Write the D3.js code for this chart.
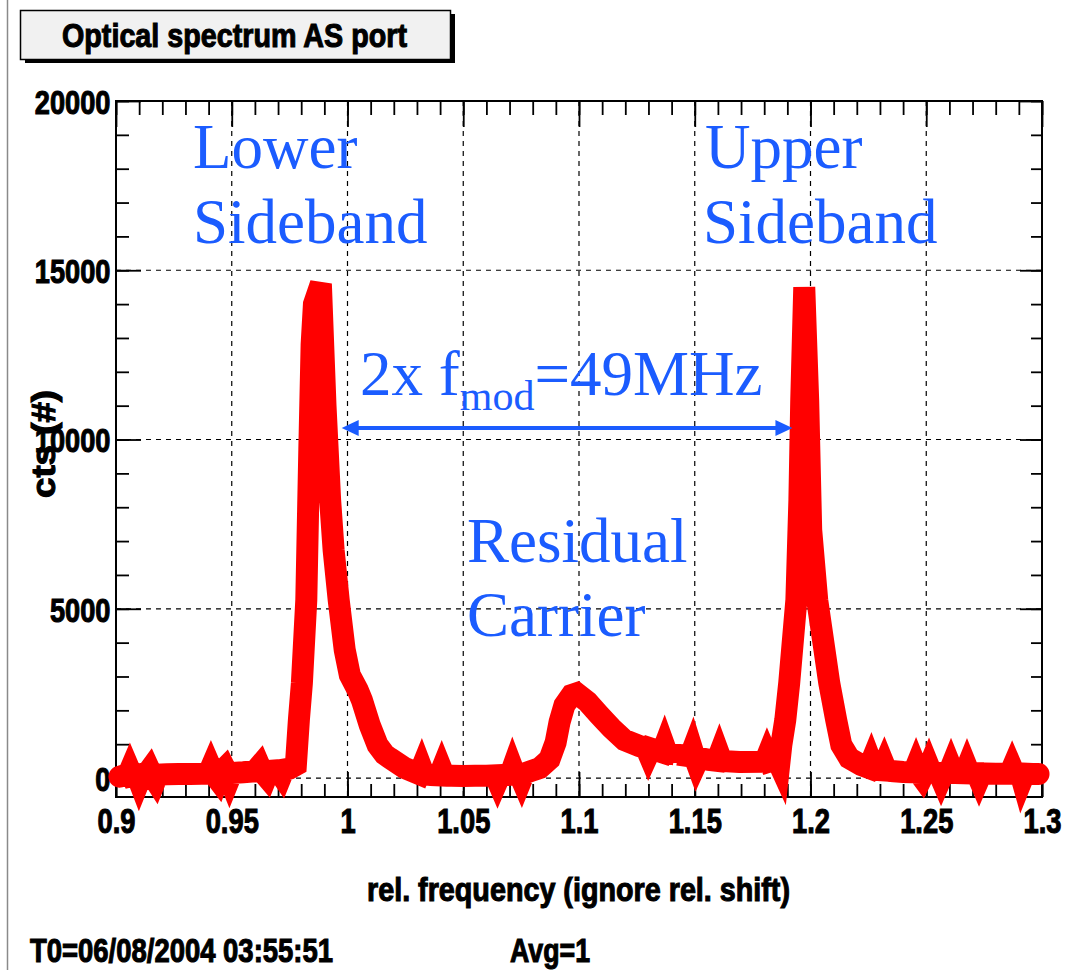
<!DOCTYPE html>
<html>
<head>
<meta charset="utf-8">
<script src="https://cdn.jsdelivr.net/npm/d3@7"></script>
<style>
  body { margin: 0; background: #fff; }
  svg { display: block; }
</style>
</head>
<body>
<div id="chart"></div>
<script>
// relative frequency of each sample
var freq = [
  0.9015, 0.9030, 0.9050, 0.9060, 0.9070, 0.9090, 0.9100, 0.9110, 0.9130, 0.9145,
  0.9155, 0.9170, 0.9180, 0.9220, 0.9270, 0.9320, 0.9370, 0.9400, 0.9410, 0.9420,
  0.9440, 0.9450, 0.9470, 0.9480, 0.9490, 0.9500, 0.9550, 0.9600, 0.9620, 0.9630,
  0.9650, 0.9660, 0.9700, 0.9715, 0.9725, 0.9750, 0.9777, 0.9790, 0.9803, 0.9822,
  0.9835, 0.9845, 0.9855, 0.9885, 0.9905, 0.9925, 0.9940, 0.9962, 0.9988, 1.0010,
  1.0044, 1.0062, 1.0096, 1.0130, 1.0160, 1.0182, 1.0247, 1.0300, 1.0310, 1.0320,
  1.0330, 1.0360, 1.0397, 1.0407, 1.0417, 1.0450, 1.0500, 1.0550, 1.0600, 1.0638,
  1.0648, 1.0658, 1.0703, 1.0713, 1.0723, 1.0742, 1.0752, 1.0762, 1.0790, 1.0830,
  1.0873, 1.0899, 1.0916, 1.0937, 1.0968, 1.0990, 1.1037, 1.1088, 1.1140, 1.1196,
  1.1261, 1.1290, 1.1300, 1.1310, 1.1359, 1.1369, 1.1379, 1.1415, 1.1421, 1.1427,
  1.1480, 1.1490, 1.1500, 1.1508, 1.1518, 1.1560, 1.1596, 1.1606, 1.1616, 1.1693,
  1.1803, 1.1813, 1.1823, 1.1855, 1.1865, 1.1874, 1.1891, 1.1908, 1.1939, 1.1952,
  1.1960, 1.1973, 1.1990, 1.2003, 1.2029, 1.2081, 1.2111, 1.2133, 1.2167, 1.2219,
  1.2252, 1.2262, 1.2272, 1.2297, 1.2308, 1.2318, 1.2328, 1.2360, 1.2400, 1.2446,
  1.2456, 1.2466, 1.2482, 1.2492, 1.2502, 1.2512, 1.2522, 1.2554, 1.2564, 1.2574,
  1.2597, 1.2607, 1.2617, 1.2666, 1.2676, 1.2686, 1.2718, 1.2728, 1.2738, 1.2800,
  1.2861, 1.2871, 1.2881, 1.2895, 1.2901, 1.2907, 1.2914, 1.2924, 1.2960, 1.2985
];

// counts at each sample
var counts = [
  40, 70, 60, 220, 60, 90, -90, 80, 100, 240,
  90, -70, 100, 110, 120, 120, 130, 140, 300, 140,
  -40, 150, 290, 150, -20, 150, 170, 200, 360, 200,
  40, 210, 230, 80, 250, 280, 384, 1713, 2806, 5258,
  9690, 12800, 14000, 14600, 11000, 8213, 6736, 5258, 3781, 3043,
  2600, 2304, 1566, 975, 700, 591, 300, 150, 120, 290,
  110, 90, 80, 250, 80, 70, 60, 70, 70, 80,
  -80, 80, 100, 290, 110, 120, -40, 130, 200, 295,
  560, 1050, 1650, 2150, 2450, 2500, 2250, 1861, 1477, 1123,
  945, 880, 720, 870, 760, 940, 750, 700, 520, 690,
  640, 820, 600, 450, 600, 540, 510, 690, 505, 473,
  480, 650, 490, 560, 410, 975, 1713, 2806, 5258, 8213,
  11167, 14500, 11167, 7327, 5258, 2806, 1713, 975, 591, 384,
  300, 470, 290, 236, 230, 390, 220, 200, 180, 170,
  340, 170, 20, 160, 160, 330, 160, 150, -10, 150,
  150, 320, 150, 140, 310, 140, 140, -20, 140, 130,
  130, 290, 130, 130, 290, 130, -40, 130, 120, 120
];

var xMajor = [0.9, 0.95, 1.0, 1.05, 1.1, 1.15, 1.2, 1.25, 1.3];
var xLabels = ["0.9", "0.95", "1", "1.05", "1.1", "1.15", "1.2", "1.25", "1.3"];
var yMajor = [0, 5000, 10000, 15000, 20000];

var width = 1074, height = 970;
var plotL = 116, plotR = 1042, plotT = 101, plotB = 797;
var blue = "#1b5cff";

var svg = d3.select("#chart").append("svg")
    .attr("width", width)
    .attr("height", height);

var x = d3.scaleLinear().domain([0.9, 1.3]).range([plotL, plotR]);
var y = d3.scaleLinear().domain([-560, 20000]).range([plotB, plotT]);

var xMinor = d3.range(0.9, 1.3001, 0.01).map(function (d) { return +d.toFixed(2); });
var yMinor = d3.range(0, 20001, 1000);

// page border on the left
svg.append("line")
    .attr("x1", 7.5).attr("x2", 7.5)
    .attr("y1", 0).attr("y2", height)
    .attr("stroke", "#8a8a8a").attr("stroke-width", 1.5);

// title box with its shadow
svg.append("rect")
    .attr("x", 25).attr("y", 14).attr("width", 430).attr("height", 49)
    .attr("fill", "#000");
svg.append("rect")
    .attr("x", 20.5).attr("y", 10.5).attr("width", 430).attr("height", 49)
    .attr("fill", "#f1f1f1").attr("stroke", "#000").attr("stroke-width", 1.5);

function boldText(sel) {
    return sel.attr("font-family", "'Liberation Sans', Arial, sans-serif")
        .attr("font-weight", "bold")
        .attr("fill", "#000")
        .attr("stroke", "#000")
        .attr("stroke-width", 1.1);
}

boldText(svg.append("text"))
    .attr("x", 62).attr("y", 47)
    .attr("font-size", 34)
    .attr("textLength", 345).attr("lengthAdjust", "spacingAndGlyphs")
    .text("Optical spectrum AS port");

// grid
var grid = svg.append("g")
    .attr("stroke", "#000").attr("stroke-width", 1.2)
    .attr("stroke-dasharray", "5,5");
grid.selectAll("line.gx")
    .data(xMajor.slice(1, -1))
    .enter().append("line")
    .attr("x1", function (d) { return x(d); })
    .attr("x2", function (d) { return x(d); })
    .attr("y1", plotT).attr("y2", plotB);
grid.selectAll("line.gy")
    .data(yMajor.slice(0, -1))
    .enter().append("line")
    .attr("y1", function (d) { return y(d); })
    .attr("y2", function (d) { return y(d); })
    .attr("x1", plotL).attr("x2", plotR);

// axes (ticks inside the frame)
function axisStyle(g) {
    g.select(".domain").remove();
    g.selectAll(".tick line").attr("stroke", "#000").attr("stroke-width", 1.8);
}

svg.append("g").attr("transform", "translate(0," + plotB + ")")
    .call(d3.axisBottom(x).tickValues(xMinor).tickSize(-13).tickFormat(""))
    .call(axisStyle);
var xAxis = svg.append("g").attr("transform", "translate(0," + plotB + ")")
    .call(d3.axisBottom(x).tickValues(xMajor).tickSize(-25).tickPadding(36)
        .tickFormat(function (d, i) { return xLabels[i]; }))
    .call(axisStyle);
svg.append("g").attr("transform", "translate(0," + plotT + ")")
    .call(d3.axisTop(x).tickValues(xMinor).tickSize(-14).tickFormat(""))
    .call(axisStyle);
svg.append("g").attr("transform", "translate(0," + plotT + ")")
    .call(d3.axisTop(x).tickValues(xMajor).tickSize(-26).tickFormat(""))
    .call(axisStyle);

svg.append("g").attr("transform", "translate(" + plotL + ",0)")
    .call(d3.axisLeft(y).tickValues(yMinor).tickSize(-13).tickFormat(""))
    .call(axisStyle);
var yAxis = svg.append("g").attr("transform", "translate(" + plotL + ",0)")
    .call(d3.axisLeft(y).tickValues(yMajor).tickSize(-25).tickPadding(7)
        .tickFormat(d3.format("d")))
    .call(axisStyle);
svg.append("g").attr("transform", "translate(" + plotR + ",0)")
    .call(d3.axisRight(y).tickValues(yMinor).tickSize(-11).tickFormat(""))
    .call(axisStyle);
svg.append("g").attr("transform", "translate(" + plotR + ",0)")
    .call(d3.axisRight(y).tickValues(yMajor).tickSize(-22).tickFormat(""))
    .call(axisStyle);

xAxis.selectAll(".tick text").call(boldText)
    .attr("font-size", 35)
    .attr("transform", "scale(0.78,1)")
    .attr("dy", 0);
yAxis.selectAll(".tick text").call(boldText)
    .attr("font-size", 34)
    .attr("transform", "scale(0.8,1)")
    .attr("dy", "0.36em");

// frame
svg.append("rect")
    .attr("x", plotL).attr("y", plotT)
    .attr("width", plotR - plotL).attr("height", plotB - plotT)
    .attr("fill", "none").attr("stroke", "#000").attr("stroke-width", 2);

// axis titles
boldText(svg.append("text"))
    .attr("x", 367).attr("y", 901)
    .attr("font-size", 34)
    .attr("textLength", 423).attr("lengthAdjust", "spacingAndGlyphs")
    .text("rel. frequency (ignore rel. shift)");

boldText(svg.append("text"))
    .attr("transform", "translate(55,444) rotate(-90)")
    .attr("text-anchor", "middle")
    .attr("font-size", 33)
    .attr("textLength", 108).attr("lengthAdjust", "spacingAndGlyphs")
    .text("cts (#)");

// footer
boldText(svg.append("text"))
    .attr("x", 30).attr("y", 962)
    .attr("font-size", 34)
    .attr("textLength", 303).attr("lengthAdjust", "spacingAndGlyphs")
    .text("T0=06/08/2004 03:55:51");
boldText(svg.append("text"))
    .attr("x", 510).attr("y", 962)
    .attr("font-size", 34)
    .attr("textLength", 80).attr("lengthAdjust", "spacingAndGlyphs")
    .text("Avg=1");

// spectrum
var points = freq.map(function (f, i) { return [f, counts[i]]; });
var line = d3.line()
    .x(function (d) { return x(d[0]); })
    .y(function (d) { return y(d[1]); });

svg.append("path")
    .datum(points)
    .attr("d", line)
    .attr("fill", "none")
    .attr("stroke", "#ff0000")
    .attr("stroke-width", 22)
    .attr("stroke-linecap", "round")
    .attr("stroke-linejoin", "miter")
    .attr("stroke-miterlimit", 4);

// annotations
function serif(sel) {
    return sel.attr("font-family", "'Liberation Serif', 'Times New Roman', serif")
        .attr("fill", blue)
        .attr("font-size", 63);
}
serif(svg.append("text")).attr("x", 193).attr("y", 168).text("Lower");
serif(svg.append("text")).attr("x", 193).attr("y", 243).text("Sideband");
serif(svg.append("text")).attr("x", 705).attr("y", 168).text("Upper");
serif(svg.append("text")).attr("x", 703).attr("y", 243).text("Sideband");
serif(svg.append("text")).attr("x", 467).attr("y", 562).text("Residual");
serif(svg.append("text")).attr("x", 467).attr("y", 636).text("Carrier");

var fm = serif(svg.append("text")).attr("x", 360).attr("y", 395);
fm.append("tspan").text("2x f");
fm.append("tspan").attr("font-size", 42).attr("dy", 15).text("mod");
fm.append("tspan").attr("dy", -15).text("=49MHz");

// double arrow between the sidebands
var arrowFrom = 0.9975, arrowTo = 1.1922, arrowLevel = 10340;
var ax1 = x(arrowFrom), ax2 = x(arrowTo), ay = y(arrowLevel);
svg.append("line")
    .attr("x1", ax1 + 10).attr("x2", ax2 - 10)
    .attr("y1", ay).attr("y2", ay)
    .attr("stroke", blue).attr("stroke-width", 4);
svg.append("path")
    .attr("d", "M" + ax1 + "," + ay + "L" + (ax1 + 17) + "," + (ay - 8) +
        "L" + (ax1 + 17) + "," + (ay + 8) + "Z")
    .attr("fill", blue);
svg.append("path")
    .attr("d", "M" + ax2 + "," + ay + "L" + (ax2 - 17) + "," + (ay - 8) +
        "L" + (ax2 - 17) + "," + (ay + 8) + "Z")
    .attr("fill", blue);
</script>
</body>
</html>
